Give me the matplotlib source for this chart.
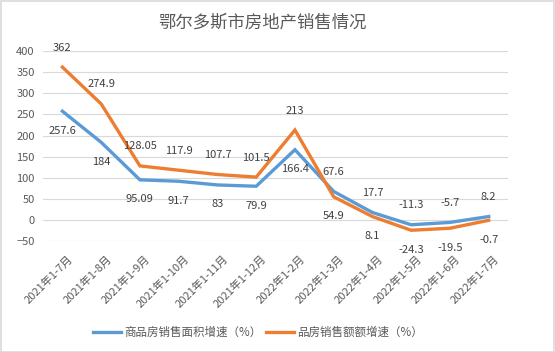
import matplotlib
matplotlib.use("Agg")
import matplotlib.pyplot as plt
from matplotlib.patches import Rectangle
from matplotlib.transforms import ScaledTranslation

plt.rcParams['font.family'] = ['Noto Sans CJK SC', 'DejaVu Sans']

categories = ["2021年1-7月", "2021年1-8月", "2021年1-9月", "2021年1-10月", "2021年1-11月",
              "2021年1-12月", "2022年1-2月", "2022年1-3月", "2022年1-4月", "2022年1-5月",
              "2022年1-6月", "2022年1-7月"]
area_growth = [257.6, 184, 95.09, 91.7, 83, 79.9, 166.4, 67.6, 17.7, -11.3, -5.7, 8.2]
amount_growth = [362, 274.9, 128.05, 117.9, 107.7, 101.5, 213, 54.9, 8.1, -24.3, -19.5, -0.7]
area_labels = ["257.6", "184", "95.09", "91.7", "83", "79.9", "166.4", "67.6", "17.7", "-11.3", "-5.7", "8.2"]
amount_labels = ["362", "274.9", "128.05", "117.9", "107.7", "101.5", "213", "54.9", "8.1", "-24.3", "-19.5", "-0.7"]
series_names = ["商品房销售面积增速（%）", "品房销售额额增速（%）"]
yticks = [-50, 0, 50, 100, 150, 200, 250, 300, 350, 400]

blue = "#5B9BD5"
orange = "#ED7D31"
txt = "#595959"

fig = plt.figure(figsize=(5.55, 3.52), dpi=100)
fig.patches.append(Rectangle((0.001, 0.001), 0.997, 0.996, transform=fig.transFigure,
                             fill=False, edgecolor="#D9D9D9", linewidth=1.2))
ax = fig.add_axes([0.0775, 0.315, 0.838, 0.54])
x = list(range(len(categories)))
ax.plot(x, area_growth, color=blue, lw=2.4, label=series_names[0], solid_joinstyle='miter')
ax.plot(x, amount_growth, color=orange, lw=2.4, label=series_names[1], solid_joinstyle='miter')

ax.set_xlim(-0.5, len(categories) - 0.5)
ax.set_ylim(-50, 400)
ax.set_yticks(yticks)
ax.grid(axis='y', color="#D9D9D9", lw=0.8)
ax.set_axisbelow(True)
for s in ax.spines.values():
    s.set_visible(False)
ax.tick_params(axis='both', length=0, colors=txt, labelsize=8)
ax.tick_params(axis='y', pad=6)
ax.tick_params(axis='x', pad=9)
ax.set_xticks(x)
ax.set_xticklabels(categories, rotation=45, ha='right', rotation_mode='anchor', fontsize=8)
shift = ScaledTranslation(5 / 100, 0, fig.dpi_scale_trans)
for t in ax.get_xticklabels():
    t.set_transform(t.get_transform() + shift)

lab = "#404040"
for i in x:
    b_off = -14 if i < 7 else 14
    o_off = 14 if i < 7 else -14
    ax.annotate(area_labels[i], (i, area_growth[i]), xytext=(0, b_off), textcoords='offset points',
                ha='center', va='center', fontsize=8, color=lab)
    ax.annotate(amount_labels[i], (i, amount_growth[i]), xytext=(0, o_off), textcoords='offset points',
                ha='center', va='center', fontsize=8, color=lab)

fig.text(0.472, 0.937, "鄂尔多斯市房地产销售情况", ha='center', va='center', fontsize=12.5, color=txt)
fig.legend(loc='center', bbox_to_anchor=(0.465, 0.055), ncol=2, frameon=False, fontsize=8.3,
           handlelength=2.4, columnspacing=0.4, handletextpad=0.3, labelcolor=txt)

fig.savefig("out.png", dpi=100)
